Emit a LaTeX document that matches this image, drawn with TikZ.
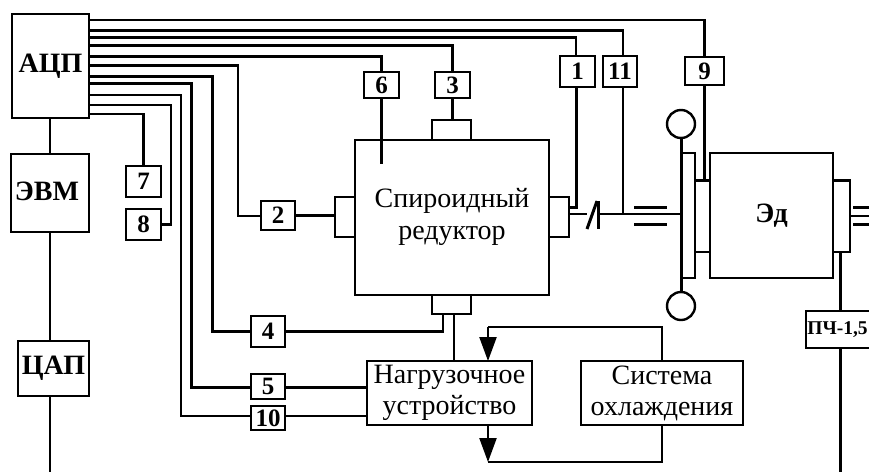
\documentclass[tikz,border=0pt]{standalone}
\usepackage{fontspec}
\setmainfont{Liberation Serif}
\usetikzlibrary{arrows.meta,calc}
\newcommand\bx[7][]{%
  \pgfmathsetmacro\cxv{(#3+#5)/2}\pgfmathsetmacro\cyv{(#4+#6)/2}%
  \node[boxs,minimum width={(#5-#3)*1pt},minimum height={(#6-#4)*1pt},#1] (#2) at (\cxv,\cyv) {#7};}
\tikzset{
  boxs/.style={draw=black,line width=2.4pt,inner sep=0pt,outer sep=0pt,align=center,text=black},
  lab/.style={font=\fontsize{28}{31}\selectfont},
  big/.style={font=\fontsize{28}{30}\selectfont\bfseries},
  num/.style={font=\fontsize{25}{24}\selectfont\bfseries},
  ln/.style={draw=black,line width=2.3pt,line cap=butt,line join=miter},
  hv/.style={ln,line width=3pt},
  arrowtip/.style={ln,-{Triangle[length=24pt,width=17pt]}},
}
\begin{document}
\begin{tikzpicture}[x=1pt,y=-1pt]
\useasboundingbox (0,0) rectangle (869,472);
\clip (0,0) rectangle (869,472);
% blocks
\bx[big]{adc}{12}{14}{89}{118}{\raisebox{-3pt}{АЦП}}
\bx[big]{evm}{11}{154}{89}{232}{\hspace*{-6pt}\raisebox{4pt}{ЭВМ}}
\bx[big]{dac}{18}{341}{89}{396}{ЦАП}
\bx[num]{b7}{126}{166}{161}{197}{7}
\bx[num]{b8}{126}{209}{161}{240}{8}
\bx[num]{b2}{261}{201}{295}{230}{2}
\bx[num]{b4}{251}{316}{285}{347}{4}
\bx[num]{b5}{251}{374}{285}{399}{5}
\bx[num]{b10}{251}{406}{285}{430}{10}
\bx[num]{b6}{364}{72}{399}{98}{6}
\bx[num]{b3}{435}{72}{470}{98}{3}
\bx[num]{b1}{560}{56}{595}{87}{1}
\bx[num]{b11}{603}{56}{637}{87}{11}
\bx[num]{b9}{685}{57}{724}{85}{9}
\bx[font=\fontsize{28}{32}\selectfont]{red}{355}{140}{549}{295}{\raisebox{9pt}{\begin{tabular}{@{}c@{}}Спироидный\\редуктор\end{tabular}}}
\bx{tabT}{432}{120}{471}{140}{}
\bx{tabB}{432}{295}{471}{314}{}
\bx{tabL}{335}{197}{355}{237}{}
\bx{tabR}{549}{197}{569}{237}{}
\bx[lab]{load}{367}{361}{532}{425}{Нагрузочное\\устройство}
\bx[lab]{cool}{581}{361}{743}{425}{Система\\охлаждения}
\bx{mtabL}{695}{180}{710}{252}{}
\bx{mtabR}{833}{180}{850}{252}{}
\bx[font=\fontsize{28}{30}\selectfont\bfseries]{mot}{710}{153}{833}{278}{Эд}
\bx[font=\fontsize{19.5}{22}\selectfont\bfseries]{pch}{806}{311}{885}{348}{\hspace*{-16pt}ПЧ-1,5}
\node[draw=black,line width=2.4pt,circle,minimum size=28pt,inner sep=0pt,outer sep=0pt] (whT) at (681,124) {};
\node[draw=black,line width=2.4pt,circle,minimum size=28pt,inner sep=0pt,outer sep=0pt] (whB) at (681,306) {};
% left column
\draw[ln] (adc.south -| evm.north) -- (evm.north);
\draw[ln] (evm.south) ++(0,0) -- (evm.south |- dac.north);
\coordinate (dacEnd) at (50,472);
\draw[ln] (dac.south -| dacEnd) -- (dacEnd);
% buses from the ADC
\draw[ln] (adc.east |- 0,20) -| (b9.north);
\draw[ln] (adc.east |- 0,30.5) -| ([xshift=3pt]b11.north);
\draw[ln] (adc.east |- 0,37.5) -| ([xshift=-1.5pt]b1.north);
\draw[hv] (adc.east |- 0,45) -| (b3.north);
\draw[ln] (adc.east |- 0,56.5) -| (b6.north);
\draw[ln] (adc.east |- 0,65.5) -| (238,216) -- (b2.west |- 238,216);
\draw[hv] (adc.east |- 0,76) -| (212,331.5) -- (b4.west);
\draw[hv] (adc.east |- 0,83.5) -| (191,387) -- (b5.west |- 191,387);
\draw[ln] (adc.east |- 0,95) -| (181,416) -- (b10.west |- 181,416);
\draw[ln] (adc.east |- 0,105) -| (171,224.5) -- (b8.east);
\draw[ln] (adc.east |- 0,114) -| (b7.north);
% sensors to the reducer
\draw[hv] (b6.south) -- ++(0,66);
\draw[ln] (b3.south) -- (b3.south |- tabT.north);
\draw[hv] (b2.east) -- (tabL.west |- b2.east);
\draw[hv] ([xshift=-1.5pt]b1.south) |- (tabR.east |- 0,207);
\draw[ln] (b4.east) -| (443,314);
\draw[ln] (454,314) -- (load.north -| 454,0);
\draw[hv] (b5.east |- 0,387) -- (load.west |- 0,387);
\draw[ln] (b10.east |- 0,416) -- (load.west |- 0,416);
% shaft and coupling
\coordinate (shaftA) at (587,214);
\coordinate (shaftB) at (598,214);
\draw[ln] (tabR.east |- shaftA) -- (shaftA);
\draw[ln] (shaftB) -- (681,214);
\draw[hv] (587,229) -- (597,201);
\draw[hv] (598,201) -- (598,229);
\draw[ln] ([xshift=3pt]b11.south) -- ++(0,127);
\draw[hv] (634,207) -- (667,207);
\draw[hv] (634,224) -- (667,224);
% disc
\draw[hv] (whT.south) -- (whB.north);
\draw[ln] (681,153) -- (695,153) -- (695,278) -- (681,278);
\draw[ln] (b9.south) -- (b9.south |- mtabL.north);
% motor output
\draw[hv] (mtabR.north east) -- (mtabR.north west);
\draw[hv] (mtabL.north east) -- (mtabL.north west);
\draw[ln] (mtabR.east |- 0,216) -- (869,216);
\draw[hv] (853,207) -- (869,207);
\draw[hv] (853,224) -- (869,224);
\draw[hv] (840,252) -- (pch.north -| 840,0);
\draw[hv] (pch.south -| 840,0) -- (840,472);
% cooling loop
\coordinate (topL) at (488,327);
\coordinate (botL) at (488,462);
\draw[ln] (cool.north -| 662,0) |- (topL);
\draw[arrowtip] (topL) -- (load.north -| topL);
\draw[arrowtip] (load.south -| botL) -- (botL);
\draw[ln] (botL) -- (662,462) -- (cool.south -| 662,0);
\end{tikzpicture}
\end{document}
